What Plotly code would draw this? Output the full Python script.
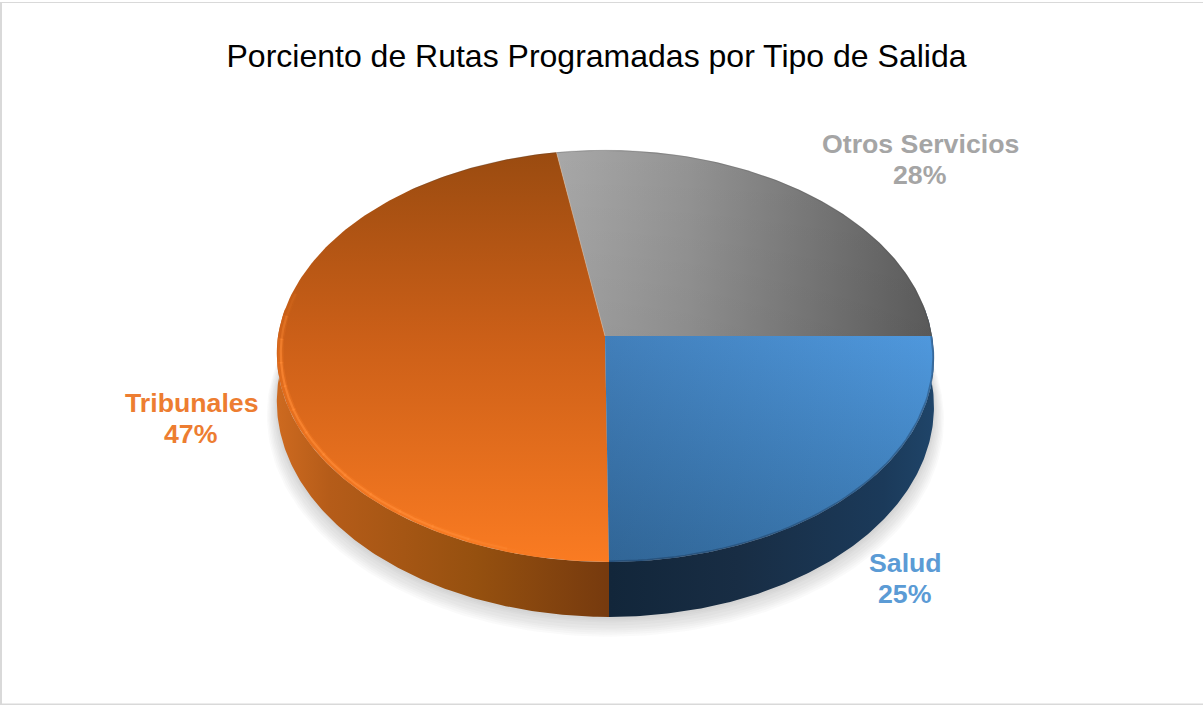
import numpy as np
import plotly.graph_objects as go

# Data, clockwise from the 3 o'clock position
categories = ["Salud", "Tribunales", "Otros Servicios"]
values = [25.0, 47.4, 27.6]
label_colors = ["#5b9bd5", "#ed7d31", "#a5a5a5"]
label_pos = [(905, 578), (191, 418), (920, 159)]
TITLE = "Porciento de Rutas Programadas por Tipo de Salida"

# View geometry (pixel-like axis units)
CX, CY, RX, RY, K = 605, 336, 327, 204, 0.097
WALL = 55


def project(a_deg, r=1.0, depth=0.0, grow=1.0):
    a = np.radians(a_deg)
    c, s = r * grow * np.cos(a), r * grow * np.sin(a)
    d = 1 + K * s
    x = CX + RX * c / d + np.where(s < 0, -4 * s, 0)
    y = CY - RY * s / d
    return x, y + depth * (0.86 - 0.14 * s)


def wedge(a0, a1):
    t = np.linspace(a0, a1, 160)
    x, y = project(t)
    return np.r_[CX, x, CX], np.r_[CY, y, CY]


def wall(a0, a1):
    t = np.linspace(a0, a1, 160)
    xu, yu = project(t)
    xl, yl = project(t, depth=WALL)
    return np.r_[xu, xl[::-1], xu[0]], np.r_[yu, yl[::-1], yu[0]]


def grad(kind, stops, start, stop):
    return dict(type=kind, colorscale=stops, start=start, stop=stop)


def poly(fig, x, y, g):
    fig.add_trace(go.Scatter(x=x, y=y, mode="lines", line=dict(width=0), fill="toself",
                             fillgradient=g, hoverinfo="skip", showlegend=False))


def arc(fig, a0, a1, color, width, r=1.0):
    x, y = project(np.linspace(a0, a1, 60), r=r)
    fig.add_trace(go.Scatter(x=x, y=y, mode="lines", line=dict(color=color, width=width),
                             hoverinfo="skip", showlegend=False))


def tapered_arc(fig, a0, a1, rgb, alpha, width, r, n=14):
    # Arc that fades out towards both ends
    ts = np.linspace(a0, a1, n + 1)
    for i in range(n):
        u = (i + 0.5) / n
        fade = min(1.0, min(u, 1 - u) * 5)
        arc(fig, ts[i], ts[i + 1] - 0.4 * np.sign(a0 - a1), f"rgba({rgb},{alpha * fade:.3f})", width, r)


# Slice angles derive from the values
total = sum(values)
edges = [0.0]
for v in values:
    edges.append(edges[-1] - 360 * v / total)
a_salud = (edges[0], edges[1])
a_trib = (edges[1], edges[2])
a_otros = (edges[2], edges[3])

fig = go.Figure()

# Soft ground shadow
t = np.linspace(0, 360, 240)
for grow, dy in [(1.030, 12), (1.026, 11), (1.022, 10), (1.018, 9), (1.014, 8),
                 (1.010, 6), (1.006, 4), (1.003, 3), (1.0, 2)]:
    x, y = project(t, grow=grow, depth=WALL)
    fig.add_trace(go.Scatter(x=x, y=y + dy, mode="lines", line=dict(width=0), fill="toself",
                             fillcolor="rgba(90,90,90,0.03)", hoverinfo="skip", showlegend=False))

# Side walls
x, y = wall(a_trib[0], -188)
poly(fig, x, y, grad("horizontal",
                     [[0, "#cc691f"], [0.15, "#b55c19"], [0.6, "#95500f"], [1, "#763a0e"]], 280, 609))
x, y = wall(8, a_salud[1])
poly(fig, x, y, grad("horizontal",
                     [[0, "#12263a"], [0.4, "#182d44"], [0.85, "#1b3a5a"], [1, "#1f4468"]], 610, 932))

# Top faces
x, y = wedge(*a_otros)
poly(fig, x, y, grad("horizontal", [[0, "#a8a8a8"], [0.35, "#949494"], [1, "#5e5e5e"]], 555, 930))
poly(fig, x, y, grad("vertical", [[0, "rgba(0,0,0,0.0)"], [1, "rgba(0,0,0,0.05)"]], 150, 336))

x, y = wedge(*a_trib)
poly(fig, x, y, grad("vertical",
                     [[0, "#9a4b10"], [0.45, "#cb5f18"], [1, "#fa7b22"]], 152, 562))

x, y = wedge(*a_salud)
poly(fig, x, y, grad("vertical", [[0, "#4f98dd"], [1, "#3a78b0"]], 336, 562))
poly(fig, x, y, grad("horizontal", [[0, "rgba(10,25,45,0.20)"], [1, "rgba(10,25,45,0.0)"]], 605, 932))

# Bevels and seams
tapered_arc(fig, -100, -192, "255,130,40", 0.28, 6, 0.990)
tapered_arc(fig, -100, -192, "255,140,55", 0.65, 2.2, 0.988)
arc(fig, a_salud[0], a_salud[1], "rgba(25,50,80,0.40)", 2, r=0.998)
arc(fig, a_otros[0] + 30, a_otros[1], "rgba(70,70,70,0.22)", 1.2, r=0.998)
sx, sy = project(np.array([a_otros[0]]))
fig.add_trace(go.Scatter(x=[CX, sx[0]], y=[CY, sy[0]], mode="lines",
                         line=dict(color="rgba(225,205,185,0.45)", width=1),
                         hoverinfo="skip", showlegend=False))

# Labels: name and percentage, one line each
for name, v, col, (lx, ly) in zip(categories, values, label_colors, label_pos):
    for txt, dy in [(name, -15.5), (f"{round(v)}%", 15.5)]:
        fig.add_annotation(x=lx, y=ly + dy, text=f"<b>{txt}</b>", showarrow=False,
                           font=dict(family="Liberation Sans", size=26.7, color=col),
                           xanchor="center", yanchor="middle", align="center")

# Outer chart frame
for s in [dict(x0=0, x1=2, y0=2, y1=705), dict(x0=0, x1=1203, y0=2, y1=3),
          dict(x0=0, x1=1203, y0=703.5, y1=705)]:
    fig.add_shape(type="rect", fillcolor="#d9d9d9", line_width=0, layer="below", **s)

fig.update_layout(
    width=1203, height=705, margin=dict(l=0, r=0, t=0, b=0),
    paper_bgcolor="white", plot_bgcolor="white", showlegend=False,
    title=dict(text=TITLE, x=596.5 / 1203, y=1 - 56 / 705, xanchor="center", yanchor="middle",
               font=dict(family="Liberation Sans", size=32, color="black")),
    xaxis=dict(range=[0, 1203], visible=False, fixedrange=True),
    yaxis=dict(range=[705, 0], visible=False, fixedrange=True),
)
fig.write_html("out.html", config=dict(displayModeBar=False),
               post_script="document.body.style.margin='0';")
